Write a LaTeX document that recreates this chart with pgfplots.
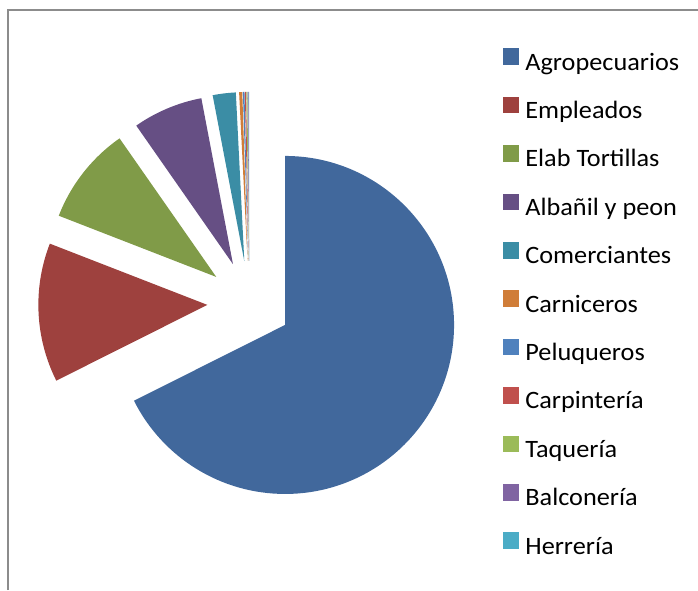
\documentclass[border=0pt]{standalone}
\usepackage{pgfplots}
\pgfplotsset{compat=1.18}
\usepackage{pgfplotstable}
\usepackage{fontspec}
\setmainfont{Carlito}
\newfontfamily\legendfont{Carlito}[FakeStretch=1.05]

\definecolor{cAgro}{HTML}{41689C}
\definecolor{cEmpl}{HTML}{9E413E}
\definecolor{cElab}{HTML}{809B48}
\definecolor{cAlba}{HTML}{664F84}
\definecolor{cCome}{HTML}{3B8DA5}
\definecolor{cCarn}{HTML}{D07D38}
\definecolor{cPelu}{HTML}{4F81BD}
\definecolor{cCarp}{HTML}{C0504D}
\definecolor{cTaqu}{HTML}{9BBB59}
\definecolor{cBalc}{HTML}{8064A2}
\definecolor{cHerr}{HTML}{4BACC6}

% share of each category (percent) and cumulative share before it
\pgfplotstableread{
cx cy cum val
249.3 287.1 0 67.6
249.3 287.1 67.6 13.3
249.3 287.1 80.9 9.4
249.3 287.1 90.3 6.7
249.3 287.1 97.0 2.2
249.3 287.1 99.2 0.3
249.3 287.1 99.5 0.15
249.3 287.1 99.65 0.12
249.3 287.1 99.77 0.1
249.3 287.1 99.87 0.08
249.3 287.1 99.95 0.05
}\piedata

\pgfdeclareplotmark{pieslice}{%
  \pgfmathsetmacro\aS{90-3.6*\pcum}%
  \pgfmathsetmacro\aE{90-3.6*(\pcum+\pval)}%
  \pgfmathsetmacro\aM{(\aS+\aE)/2}%
  \pgfpathmoveto{\pgfpointpolar{\aM}{42pt}}%
  \pgfpathlineto{\pgfpointadd{\pgfpointpolar{\aM}{42pt}}{\pgfpointpolar{\aS}{169pt}}}%
  \pgfpatharc{\aS}{\aE}{169pt}%
  \pgfpathclose
  \pgfusepathqfill
}

\pgfplotsset{
  slice/.style 2 args={scatter, only marks, mark=pieslice,
    scatter/use mapped color={draw=none, fill=#1},
    visualization depends on={\thisrow{cum}\as\pcum},
    visualization depends on={\thisrow{val}\as\pval},
    restrict expr to domain={\coordindex}{#2:#2},
    legend image code/.code={\fill[#1] (0pt,0pt) rectangle (15.6pt,15.6pt);}},
}

\begin{document}
\begin{tikzpicture}
\useasboundingbox (0,0) rectangle (698pt,590pt);
\begin{axis}[
  x=1pt, y=1pt, xmin=0, xmax=698, ymin=0, ymax=590,
  hide axis, clip=false,
  legend cell align=left,
  legend style={draw=none, fill=none, inner sep=0pt, outer sep=0pt,
    at={(0.7202,0.918)}, anchor=north west,
    font=\legendfont\fontsize{25}{29}\selectfont,
    row sep=20.6pt,
    nodes={inner sep=0pt, text height=18pt, text depth=6pt},
    /tikz/every odd column/.append style={column sep=6.7pt}},
]
\draw[color=black!45, line width=2pt] (axis cs:8,0) -- (axis cs:8,580) -- (axis cs:698,580);
\addplot[slice={cAgro}{0}] table[x=cx,y=cy]{\piedata};
\addplot[slice={cEmpl}{1}] table[x=cx,y=cy]{\piedata};
\addplot[slice={cElab}{2}] table[x=cx,y=cy]{\piedata};
\addplot[slice={cAlba}{3}] table[x=cx,y=cy]{\piedata};
\addplot[slice={cCome}{4}] table[x=cx,y=cy]{\piedata};
\addplot[slice={cCarn}{5}] table[x=cx,y=cy]{\piedata};
\addplot[slice={cPelu}{6}] table[x=cx,y=cy]{\piedata};
\addplot[slice={cCarp}{7}] table[x=cx,y=cy]{\piedata};
\addplot[slice={cTaqu}{8}] table[x=cx,y=cy]{\piedata};
\addplot[slice={cBalc}{9}] table[x=cx,y=cy]{\piedata};
\addplot[slice={cHerr}{10}] table[x=cx,y=cy]{\piedata};
\legend{Agropecuarios, Empleados, Elab Tortillas, Albañil y peon, Comerciantes, Carniceros, Peluqueros, Carpintería, Taquería, Balconería, Herrería}
\end{axis}
\end{tikzpicture}
\end{document}
